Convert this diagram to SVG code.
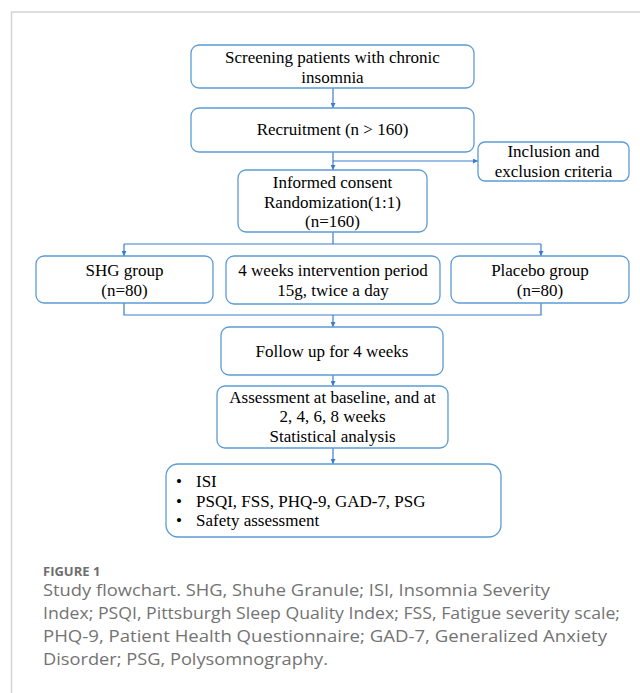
<svg xmlns="http://www.w3.org/2000/svg" width="640" height="693" viewBox="0 0 640 693">
<defs>
<style>
.box{fill:#fff;stroke:#5B9BD5;stroke-width:1.3}
.t{font-family:"Liberation Serif","Times New Roman",serif;font-size:17px;fill:#000;text-anchor:middle}
.tl{font-family:"Liberation Serif","Times New Roman",serif;font-size:17px;fill:#000}
.c{fill:none;stroke:#3A7DCC;stroke-width:1.2}
.cap{font-family:"Open Sans","Liberation Sans",sans-serif;font-size:15.5px;fill:#737373}
.fig{font-family:"Open Sans","Liberation Sans",sans-serif;font-size:13px;font-weight:bold;fill:#6e6e6e}
</style>
<marker id="ah" viewBox="0 0 6 6" refX="6" refY="3" markerWidth="5" markerHeight="5" markerUnits="userSpaceOnUse" orient="auto">
<path d="M0,0 L6,3 L0,6 Z" fill="#3A7DCC"/>
</marker>
</defs>
<rect width="640" height="693" fill="#fff"/>
<path d="M11.5,693 V12 H640" fill="none" stroke="#d4d4d4" stroke-width="1.5"/>

<g id="connectors">
<line class="c" x1="333" y1="88" x2="333" y2="108" marker-end="url(#ah)"/>
<line class="c" x1="333" y1="152" x2="333" y2="170" marker-end="url(#ah)"/>
<line class="c" x1="333" y1="161" x2="478" y2="161" marker-end="url(#ah)"/>
<polyline class="c" points="333,232 333,244"/>
<polyline class="c" points="124,244 541,244"/>
<line class="c" x1="124" y1="244" x2="124" y2="256" marker-end="url(#ah)"/>
<line class="c" x1="541" y1="244" x2="541" y2="256" marker-end="url(#ah)"/>
<polyline class="c" points="124,303 124,315 541,315 541,303"/>
<line class="c" x1="333" y1="315" x2="333" y2="327" marker-end="url(#ah)"/>
<line class="c" x1="333" y1="375" x2="333" y2="386" marker-end="url(#ah)"/>
<line class="c" x1="333" y1="448" x2="333" y2="464" marker-end="url(#ah)"/>
</g>

<g id="screening">
<rect class="box" x="191" y="45" width="283" height="43" rx="8"/>
<text class="t" x="332.5" y="63">Screening patients with chronic</text>
<text class="t" x="332.5" y="83">insomnia</text>
</g>
<g id="recruitment">
<rect class="box" x="191" y="108" width="283" height="44" rx="8"/>
<text class="t" x="332.5" y="135">Recruitment (n &gt; 160)</text>
</g>
<g id="inclusion">
<rect class="box" x="478" y="142" width="151" height="39" rx="7"/>
<text class="t" x="553.5" y="157">Inclusion and</text>
<text class="t" x="553.5" y="177">exclusion criteria</text>
</g>
<g id="randomization">
<rect class="box" x="238" y="170" width="189" height="62" rx="8"/>
<text class="t" x="332.5" y="188">Informed consent</text>
<text class="t" x="332.5" y="207.5">Randomization(1:1)</text>
<text class="t" x="332.5" y="227">(n=160)</text>
</g>
<g id="shg">
<rect class="box" x="36" y="256" width="177" height="47" rx="8"/>
<text class="t" x="124.5" y="276">SHG group</text>
<text class="t" x="124.5" y="296">(n=80)</text>
</g>
<g id="intervention">
<rect class="box" x="226" y="256" width="214" height="48" rx="8"/>
<text class="t" x="333" y="276">4 weeks intervention period</text>
<text class="t" x="333" y="296">15g, twice a day</text>
</g>
<g id="placebo">
<rect class="box" x="451" y="256" width="178" height="47" rx="8"/>
<text class="t" x="540" y="276">Placebo group</text>
<text class="t" x="540" y="296">(n=80)</text>
</g>
<g id="followup">
<rect class="box" x="221" y="327" width="222" height="48" rx="8"/>
<text class="t" x="332" y="357">Follow up for 4 weeks</text>
</g>
<g id="assessment">
<rect class="box" x="217" y="386" width="231" height="62" rx="8"/>
<text class="t" x="332.5" y="402.5">Assessment at baseline, and at</text>
<text class="t" x="332.5" y="422">2, 4, 6, 8 weeks</text>
<text class="t" x="332.5" y="441.5">Statistical analysis</text>
</g>
<g id="outcomes">
<rect class="box" x="166" y="464" width="335" height="73" rx="12"/>
<text class="tl" x="176" y="487">•</text>
<text class="tl" x="196" y="487">ISI</text>
<text class="tl" x="176" y="507">•</text>
<text class="tl" x="196" y="507">PSQI, FSS, PHQ-9, GAD-7, PSG</text>
<text class="tl" x="176" y="526">•</text>
<text class="tl" x="196" y="526">Safety assessment</text>
</g>

<g id="caption">
<text class="fig" x="43" y="576">FIGURE 1</text>
<text class="cap" x="43" y="596" textLength="507" lengthAdjust="spacingAndGlyphs">Study flowchart. SHG, Shuhe Granule; ISI, Insomnia Severity</text>
<text class="cap" x="43" y="619" textLength="577" lengthAdjust="spacingAndGlyphs">Index; PSQI, Pittsburgh Sleep Quality Index; FSS, Fatigue severity scale;</text>
<text class="cap" x="43" y="642" textLength="564" lengthAdjust="spacingAndGlyphs">PHQ-9, Patient Health Questionnaire; GAD-7, Generalized Anxiety</text>
<text class="cap" x="43" y="665" textLength="285" lengthAdjust="spacingAndGlyphs">Disorder; PSG, Polysomnography.</text>
</g>
</svg>
